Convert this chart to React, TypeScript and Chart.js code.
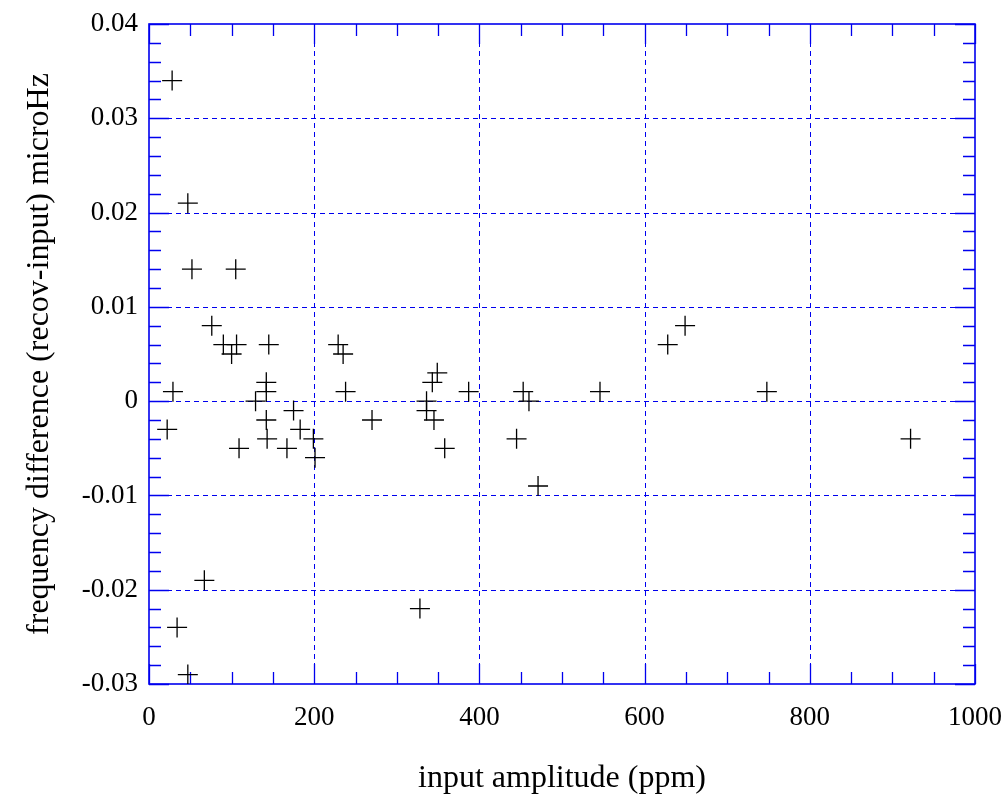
import React, { useEffect, useRef } from "react";
import { Chart, registerables } from "chart.js";

Chart.register(...registerables);

// Data
const xValues: number[] = [
  28, 47, 52, 105, 76, 90, 100, 106, 145, 142, 142, 29, 129, 175, 142, 22, 183, 143, 199, 109,
  167, 201, 67, 34, 47, 229, 235, 238, 270, 349, 343, 336, 336, 345, 358, 387, 453, 460, 445,
  471, 328, 546, 628, 649, 748, 922,
];
const yValues: number[] = [
  0.034, 0.021, 0.014, 0.014, 0.008, 0.006, 0.005, 0.006, 0.006, 0.002, 0.001, 0.001, 0.0,
  -0.001, -0.002, -0.003, -0.003, -0.004, -0.004, -0.005, -0.005, -0.006, -0.019, -0.024,
  -0.029, 0.006, 0.005, 0.001, -0.002, 0.003, 0.002, 0.0, -0.001, -0.002, -0.005, 0.001, 0.001,
  0.0, -0.004, -0.009, -0.022, 0.001, 0.006, 0.008, 0.001, -0.004,
];

const xTickValues: number[] = [0, 200, 400, 600, 800, 1000];
const xTickLabels: string[] = ["0", "200", "400", "600", "800", "1000"];
const yTickValues: number[] = [-0.03, -0.02, -0.01, 0, 0.01, 0.02, 0.03, 0.04];
const yTickLabels: string[] = ["-0.03", "-0.02", "-0.01", "0", "0.01", "0.02", "0.03", "0.04"];
const xMinorStep = 50;
const yMinorStep = 0.002;

const xTitle = "input amplitude (ppm)";
const yTitle = "frequency difference (recov-input) microHz";

const FONT = "'Liberation Serif', 'Times New Roman', serif";
const BLUE = "#0000ee";

const framePlugin = {
  id: "frame",
  beforeDatasetsDraw(chart: any) {
    const { ctx, chartArea } = chart;
    const xs = chart.scales.x;
    const ys = chart.scales.y;
    const { left, right, top, bottom } = chartArea;
    ctx.save();
    // dashed grid lines
    ctx.strokeStyle = BLUE;
    ctx.lineWidth = 1;
    ctx.setLineDash([5, 4]);
    xTickValues.forEach((v) => {
      const px = Math.round(xs.getPixelForValue(v)) + 0.5;
      if (px <= left + 2 || px >= right - 2) return;
      ctx.beginPath();
      ctx.moveTo(px, top);
      ctx.lineTo(px, bottom);
      ctx.stroke();
    });
    yTickValues.forEach((v) => {
      const py = Math.round(ys.getPixelForValue(v)) + 0.5;
      if (py <= top + 2 || py >= bottom - 2) return;
      ctx.beginPath();
      ctx.moveTo(left, py);
      ctx.lineTo(right, py);
      ctx.stroke();
    });
    ctx.setLineDash([]);
    // inward ticks
    ctx.lineWidth = 1.3;
    const xmin = xs.min;
    const xmax = xs.max;
    for (let i = 0; xmin + i * xMinorStep <= xmax + 1e-9; i++) {
      const v = xmin + i * xMinorStep;
      const major = Math.abs(v / 200 - Math.round(v / 200)) < 1e-6;
      const len = major ? 20 : 12;
      const px = Math.round(xs.getPixelForValue(v)) + 0.5;
      ctx.beginPath();
      ctx.moveTo(px, bottom);
      ctx.lineTo(px, bottom - len);
      ctx.moveTo(px, top);
      ctx.lineTo(px, top + len);
      ctx.stroke();
    }
    const ymin = ys.min;
    const ymax = ys.max;
    for (let i = 0; ymin + i * yMinorStep <= ymax + 1e-9; i++) {
      const v = ymin + i * yMinorStep;
      const major = Math.abs(v / 0.01 - Math.round(v / 0.01)) < 1e-6;
      const len = major ? 20 : 12;
      const py = Math.round(ys.getPixelForValue(v)) + 0.5;
      ctx.beginPath();
      ctx.moveTo(left, py);
      ctx.lineTo(left + len, py);
      ctx.moveTo(right, py);
      ctx.lineTo(right - len, py);
      ctx.stroke();
    }
    // frame
    ctx.lineWidth = 1.6;
    ctx.strokeStyle = BLUE;
    ctx.strokeRect(left, top, right - left, bottom - top);
    ctx.restore();
  },
};

export default function App() {
  const canvasRef = useRef<HTMLCanvasElement | null>(null);

  useEffect(() => {
    if (!canvasRef.current) return;
    const points = xValues.map((x, i) => ({ x, y: yValues[i] }));
    const chart = new Chart(canvasRef.current, {
      type: "scatter",
      data: {
        datasets: [
          {
            data: points,
            pointStyle: "cross",
            pointRadius: 10,
            pointBorderColor: "#000000",
            pointBackgroundColor: "#000000",
            pointBorderWidth: 1.3,
            showLine: false,
          } as any,
        ],
      },
      options: {
        responsive: false,
        animation: false,
        devicePixelRatio: 1,
        layout: { padding: { left: 0, top: 24, right: 33, bottom: 0 } },
        plugins: {
          legend: { display: false },
          tooltip: { enabled: false },
        },
        scales: {
          x: {
            type: "linear",
            min: 0,
            max: 1000,
            afterBuildTicks: (scale: any) => {
              scale.ticks = xTickValues.map((v) => ({ value: v }));
            },
            afterFit: (scale: any) => {
              scale.height = 118;
              scale.paddingLeft = 0;
              scale.paddingRight = 0;
            },
            ticks: {
              color: "#000",
              font: { family: FONT, size: 27 },
              padding: 18,
              maxRotation: 0,
              autoSkip: false,
              callback: (v: any) => {
                const i = xTickValues.indexOf(Number(v));
                return i >= 0 ? xTickLabels[i] : "";
              },
            },
            grid: { display: false, drawTicks: false },
            border: { display: false },
            title: {
              display: true,
              text: xTitle,
              color: "#000",
              font: { family: FONT, size: 32 },
              padding: { top: 0, bottom: 4 },
            },
          },
          y: {
            type: "linear",
            min: -0.03,
            max: 0.04,
            afterBuildTicks: (scale: any) => {
              scale.ticks = yTickValues.map((v) => ({ value: v }));
            },
            afterFit: (scale: any) => {
              scale.width = 149;
              scale.paddingTop = 0;
              scale.paddingBottom = 0;
            },
            ticks: {
              color: "#000",
              font: { family: FONT, size: 27 },
              padding: 11,
              autoSkip: false,
              callback: (v: any) => {
                const n = Number(v);
                const i = yTickValues.findIndex((t) => Math.abs(t - n) < 1e-9);
                return i >= 0 ? yTickLabels[i] : "";
              },
            },
            grid: { display: false, drawTicks: false },
            border: { display: false },
            title: {
              display: true,
              text: yTitle,
              color: "#000",
              font: { family: FONT, size: 32 },
              padding: { top: 20, bottom: 0 },
            },
          },
        },
      },
      plugins: [framePlugin],
    });
    return () => chart.destroy();
  }, []);

  return (
    <div style={{ position: "absolute", left: 0, top: 0, width: 1008, height: 802, background: "#fff" }}>
      <canvas ref={canvasRef} width={1008} height={802} style={{ display: "block" }} />
    </div>
  );
}
